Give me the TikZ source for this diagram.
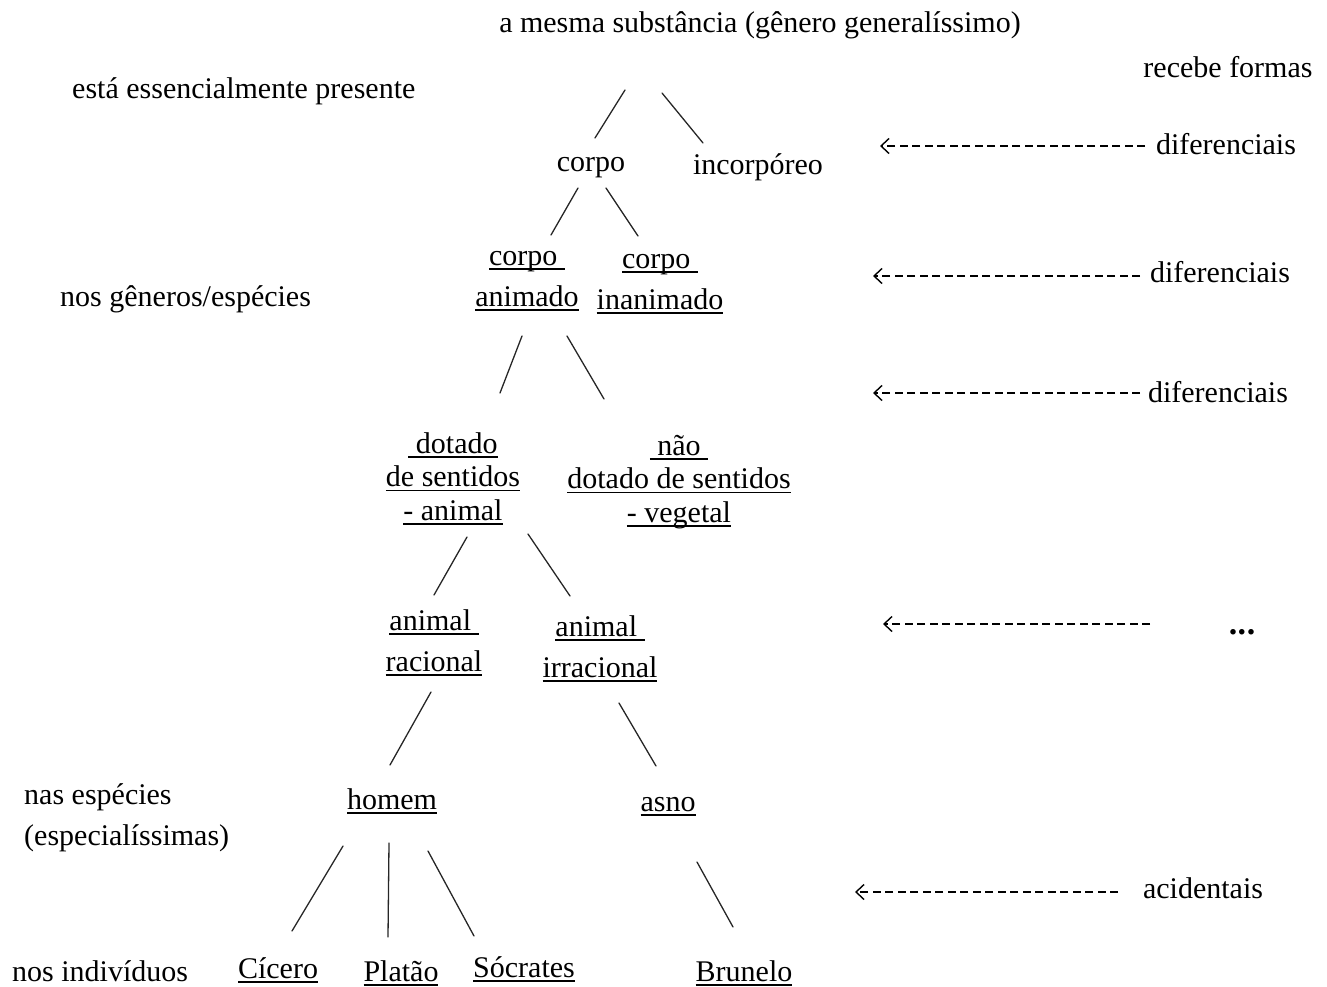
\documentclass[tikz,border=0pt]{standalone}
\usepackage{fontspec}
\setmainfont{Liberation Serif}
\usetikzlibrary{arrows.meta}

% word underlined at a fixed depth below the baseline
\newcommand\ulword[1]{\setbox0\hbox{#1}\rlap{\rule[-0.15em]{\wd0}{0.05em}}\box0}

\tikzset{
  lbl/.style={anchor=base, inner sep=0pt, font=\fontsize{30}{41}\selectfont},
  % multi-line labels: placed by the baseline of their last line
  stack/.style={lbl, align=center},
  stacktight/.style={stack, font=\fontsize{30}{33.5}\selectfont},
  branch/.style={line width=1.3pt, draw=black!85, line cap=round},
  hint/.style={line width=1.4pt, dash pattern=on 8pt off 4.5pt,
    -{Straight Barb[length=8pt,width=15pt,line width=1.4pt]}},
}

\begin{document}
\begin{tikzpicture}[x=1pt,y=-1pt]
\useasboundingbox (0,0) rectangle (1327,987);

% side captions
\node[lbl] (top) at (760,33) {a mesma substância (gênero generalíssimo)};
\node[lbl] (recebe) at (1228,78) {recebe formas};
\node[lbl, anchor=base west] (essenc) at (72,99) {está essencialmente presente};
\node[lbl, anchor=base west] (generos) at (60,306) {nos gêneros/espécies};
\node[stack, align=left, anchor=base west] (especies) at (24,845) {nas espécies\\(especialíssimas)};
\node[lbl, anchor=base west] (indiv) at (12,981) {nos indivíduos};

% tree
\node[lbl] (corpo) at (591,172) {corpo};
\node[lbl] (incorp) at (758,175) {incorpóreo};
\node[stack] (canim) at (527,306) {\ulword{corpo\ }\\\ulword{animado}};
\node[stack] (cinan) at (660,309) {\ulword{corpo\ }\\\ulword{inanimado}};
\node[stacktight] (dotado) at (453,520) {\ulword{\ dotado}\\\ulword{de sentidos}\\\ulword{- animal}};
\node[stacktight] (naodot) at (679,522) {\ulword{\ não\ }\\\ulword{dotado de sentidos}\\\ulword{- vegetal}};
\node[stack] (racional) at (434,671) {\ulword{animal\ }\\\ulword{racional}};
\node[stack] (irrac) at (600,677) {\ulword{animal\ }\\\ulword{irracional}};
\node[lbl] (homem) at (392,809) {\ulword{homem}};
\node[lbl] (asno) at (668,811) {\ulword{asno}};
\node[lbl] (cicero) at (278,978) {\ulword{Cícero}};
\node[lbl] (platao) at (401,981) {\ulword{Platão}};
\node[lbl] (socrates) at (524,977) {\ulword{Sócrates}};
\node[lbl] (brunelo) at (744,981) {\ulword{Brunelo}};

% branches
\draw[branch] (625,90) -- (595,138);
\draw[branch] (662,93) -- (703,143);
\draw[branch] (578,188) -- (551,235);
\draw[branch] (606,188) -- (638,236);
\draw[branch] (522,336) -- (500,393);
\draw[branch] (567,336) -- (604,399);
\draw[branch] (467,537) -- (434,595);
\draw[branch] (528,534) -- (570,596);
\draw[branch] (431,692) -- (390,765);
\draw[branch] (619,703) -- (656,766);
\draw[branch] (343,846) -- (292,931);
\draw[branch] (389,843) -- (388,937);
\draw[branch] (428,851) -- (474,936);
\draw[branch] (697,862) -- (733,927);

% forms received on the right
\node[lbl] (dif1) at (1226,155) {diferenciais};
\node[lbl] (dif2) at (1220,282) {diferenciais};
\node[lbl] (dif3) at (1218,402) {diferenciais};
\node[lbl, font=\fontsize{34}{40}\selectfont] (etc) at (1242,634) {\textbf{.\kern0.5pt.\kern0.5pt.}};
\node[lbl] (acid) at (1203,898) {acidentais};

\draw[hint] (1145,146) -- (880,146);
\draw[hint] (1140,276) -- (873,276);
\draw[hint] (1140,393) -- (873,393);
\draw[hint] (1150,624) -- (883,624);
\draw[hint] (1118,892) -- (855,892);
\end{tikzpicture}
\end{document}
